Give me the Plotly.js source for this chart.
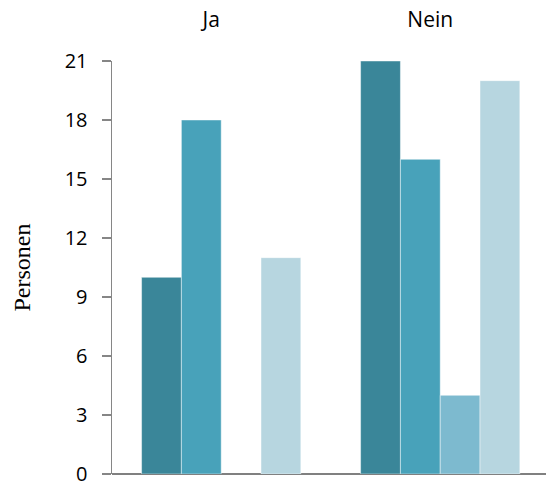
<!DOCTYPE html>
<html>
<head>
<meta charset="utf-8">
<script src="https://cdn.plot.ly/plotly-3.0.1.min.js"></script>
<style>html,body{margin:0;padding:0;background:#fff;}</style>
</head>
<body>
<div id="chart" style="width:546px;height:483px;"></div>
<script>
const categories = ["Ja", "Nein"];
const series1 = [10, 21];
const series2 = [18, 16];
const series3 = [null, 4];
const series4 = [11, 20];
const yTicks = [0, 3, 6, 9, 12, 15, 18, 21];

const colors = ["#3a8699", "#48a2ba", "#7dbacf", "#b7d6e0"];
const allSeries = [series1, series2, series3, series4];

const data = allSeries.map((vals, i) => ({
  type: "bar",
  x: categories,
  y: vals,
  name: "Serie " + (i + 1),
  marker: { color: colors[i], line: { color: "rgba(255,255,255,0.45)", width: 1 } },
  hoverinfo: "none"
}));

const layout = {
  width: 546,
  height: 483,
  margin: { l: 112, r: 0, t: 61, b: 9, pad: 0 },
  paper_bgcolor: "#ffffff",
  plot_bgcolor: "#ffffff",
  showlegend: false,
  barmode: "group",
  bargap: 0.273,
  bargroupgap: 0,
  font: { family: "Open Sans, sans-serif", color: "#000000", size: 21 },
  xaxis: {
    type: "category",
    side: "top",
    range: [-0.4986, 1.483],
    showline: false,
    showgrid: false,
    zeroline: false,
    ticks: "",
    ticklabelstandoff: 29,
    ticklabelshift: -10,
    tickfont: { family: "Open Sans, sans-serif", size: 21, color: "#000" },
    fixedrange: true
  },
  yaxis: {
    range: [0, 21],
    tickvals: yTicks,
    ticktext: yTicks.map(String),
    showgrid: false,
    showline: true,
    linecolor: "#868686",
    linewidth: 1.5,
    ticks: "outside",
    ticklen: 9,
    tickwidth: 1.5,
    tickcolor: "#868686",
    ticklabelstandoff: 10,
    ticklabeloverflow: "allow",
    zeroline: true,
    zerolinecolor: "#808080",
    zerolinewidth: 2.5,
    tickfont: { family: "Open Sans, sans-serif", size: 20, color: "#000" },
    title: { text: "Personen", font: { family: "Liberation Serif, serif", size: 24, color: "#000" }, standoff: 27 },
    automargin: false,
    fixedrange: true
  }
};

Plotly.newPlot("chart", data, layout, { staticPlot: true, displayModeBar: false });
</script>
</body>
</html>
